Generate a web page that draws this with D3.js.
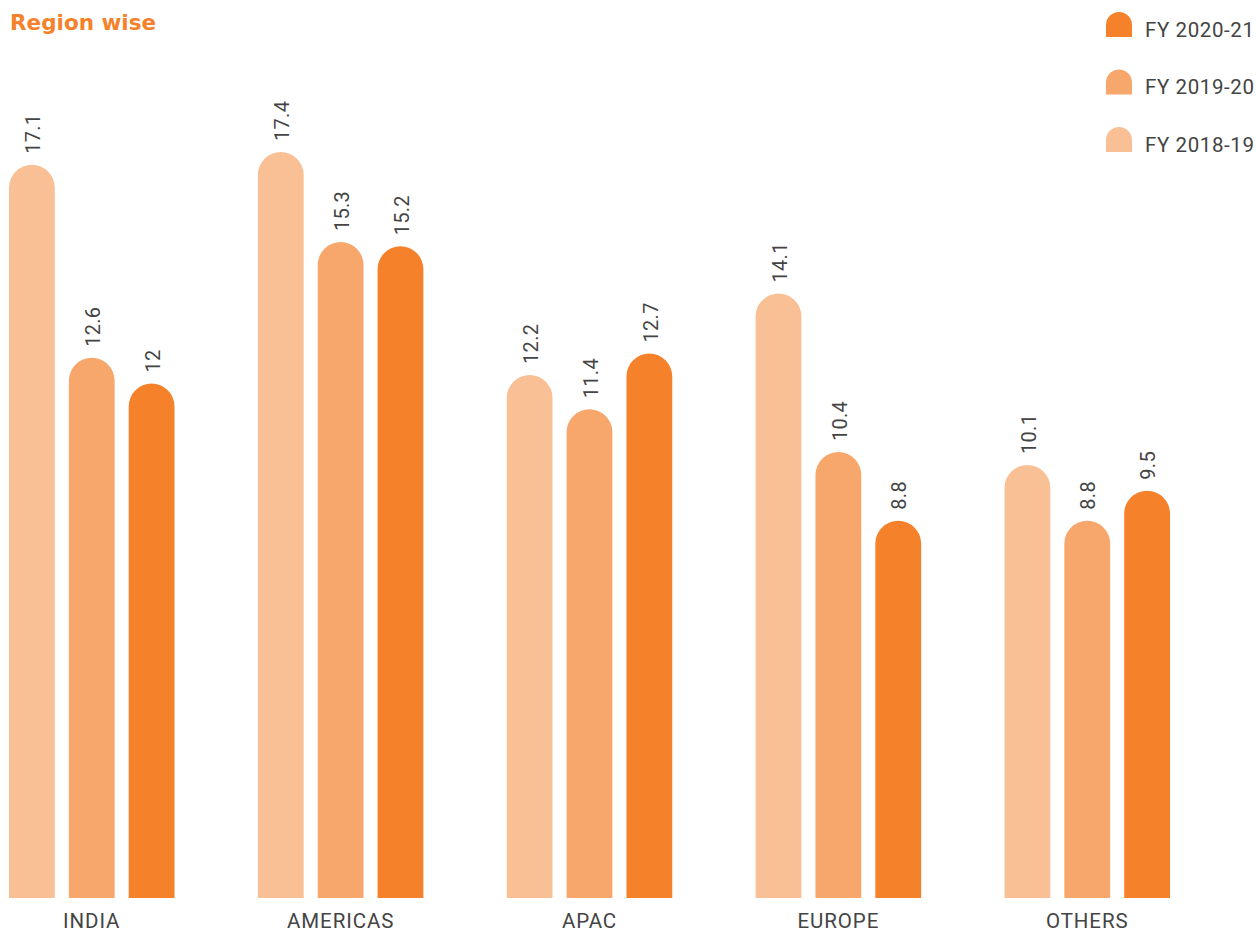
<!DOCTYPE html>
<html>
<head>
<meta charset="utf-8">
<script src="https://cdn.jsdelivr.net/npm/d3@7"></script>
<style>
  html, body { margin: 0; padding: 0; background: #fff; }
  svg { display: block; }
</style>
</head>
<body>
<svg id="chart" width="1256" height="932"></svg>
<script>
const categories = ["INDIA", "AMERICAS", "APAC", "EUROPE", "OTHERS"];
const seriesNames = ["FY 2018-19", "FY 2019-20", "FY 2020-21"];
const fy1819 = [17.1, 17.4, 12.2, 14.1, 10.1];
const fy1920 = [12.6, 15.3, 11.4, 10.4, 8.8];
const fy2021 = [12, 15.2, 12.7, 8.8, 9.5];
const labels1819 = ["17.1", "17.4", "12.2", "14.1", "10.1"];
const labels1920 = ["12.6", "15.3", "11.4", "10.4", "8.8"];
const labels2021 = ["12", "15.2", "12.7", "8.8", "9.5"];
const colors = ["#F9C096", "#F7A76B", "#F5822B"];
const legendOrder = ["FY 2020-21", "FY 2019-20", "FY 2018-19"];

const series = [
  {name: seriesNames[0], values: fy1819, labels: labels1819},
  {name: seriesNames[1], values: fy1920, labels: labels1920},
  {name: seriesNames[2], values: fy2021, labels: labels2021}
];
const color = d3.scaleOrdinal().domain(seriesNames).range(colors);

const svg = d3.select("#chart");
const baseY = 898;

const x0 = d3.scaleBand().domain(categories).range([9, 1170]).paddingInner(0.335).paddingOuter(0);
const x1 = d3.scaleBand().domain(seriesNames).range([0, x0.bandwidth()]).paddingInner(0.235).paddingOuter(0);
const y = d3.scaleLinear().domain([0, 17.4]).range([baseY, 152]);

function roundTopPath(x, top, w, bottom) {
  const r = w / 2;
  const p = d3.path();
  p.moveTo(x, bottom);
  p.lineTo(x, top + r);
  p.arc(x + r, top + r, r, Math.PI, 0);
  p.lineTo(x + w, bottom);
  p.closePath();
  return p.toString();
}

// Title
svg.append("text")
  .attr("x", 10).attr("y", 30)
  .attr("font-family", "DejaVu Sans, sans-serif")
  .attr("font-weight", "bold")
  .attr("font-size", 21.5)
  .attr("fill", "#F5822B")
  .text("Region wise");

const groups = svg.selectAll("g.cat")
  .data(categories)
  .join("g")
  .attr("class", "cat")
  .attr("transform", d => `translate(${x0(d)},0)`);

series.forEach(s => {
  groups.append("path")
    .attr("d", (c, i) => roundTopPath(x1(s.name), y(s.values[i]), x1.bandwidth(), baseY))
    .attr("fill", color(s.name));
  groups.append("text")
    .attr("transform", (c, i) => `translate(${x1(s.name) + x1.bandwidth() / 2 + 1},${y(s.values[i]) - 11}) rotate(-90)`)
    .attr("dy", "0.36em")
    .attr("text-anchor", "start")
    .attr("font-family", "Roboto, sans-serif")
    .attr("font-size", 20)
    .attr("letter-spacing", 0.3)
    .attr("fill", "#444")
    .text((c, i) => s.labels[i]);
});

// Category axis labels
const xAxis = d3.axisBottom(x0).tickSize(0).tickPadding(0);
const axisG = svg.append("g").attr("transform", `translate(0,${baseY})`).call(xAxis);
axisG.select(".domain").remove();
axisG.selectAll("text")
  .attr("y", 30)
  .attr("dy", 0)
  .attr("font-family", "Roboto, sans-serif")
  .attr("font-size", 20.5)
  .attr("letter-spacing", 0.9)
  .attr("fill", "#444");

// Legend
const legend = svg.append("g").attr("transform", "translate(1106,12)");
const li = legend.selectAll("g").data(legendOrder).join("g")
  .attr("transform", (d, i) => `translate(0,${i * 57.5})`);
li.append("path")
  .attr("d", () => roundTopPath(0, 0, 26, 25))
  .attr("fill", d => color(d));
li.append("text")
  .attr("x", 39).attr("y", 24.5)
  .attr("font-family", "Roboto, sans-serif")
  .attr("font-size", 20.5)
  .attr("letter-spacing", 0.6)
  .attr("fill", "#444")
  .text(d => d);
</script>
</body>
</html>
